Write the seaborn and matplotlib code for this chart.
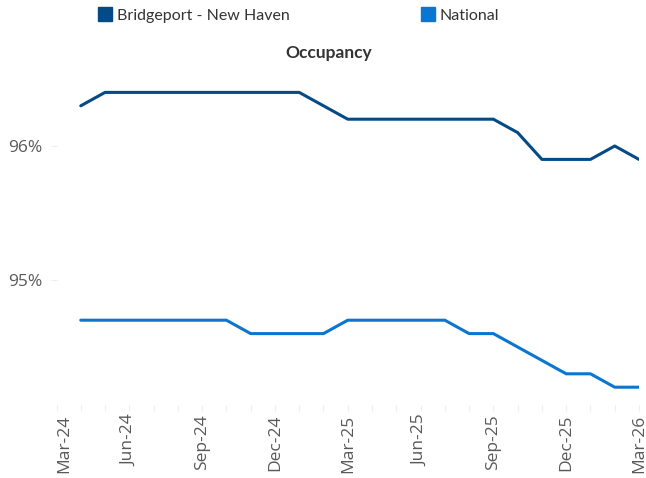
import matplotlib
matplotlib.use("Agg")
import matplotlib.pyplot as plt
import matplotlib.transforms as mtransforms
from matplotlib.patches import Patch
from matplotlib.ticker import FixedLocator, MultipleLocator, FuncFormatter
import seaborn as sns
import pandas as pd

months = ["Apr-24", "May-24", "Jun-24", "Jul-24", "Aug-24", "Sep-24", "Oct-24", "Nov-24",
          "Dec-24", "Jan-25", "Feb-25", "Mar-25", "Apr-25", "May-25", "Jun-25", "Jul-25",
          "Aug-25", "Sep-25", "Oct-25", "Nov-25", "Dec-25", "Jan-26", "Feb-26", "Mar-26"]
bridgeport = [96.3, 96.4, 96.4, 96.4, 96.4, 96.4, 96.4, 96.4, 96.4, 96.4, 96.3, 96.2,
              96.2, 96.2, 96.2, 96.2, 96.2, 96.2, 96.1, 95.9, 95.9, 95.9, 96.0, 95.9]
national = [94.7, 94.7, 94.7, 94.7, 94.7, 94.7, 94.7, 94.6, 94.6, 94.6, 94.6, 94.7,
            94.7, 94.7, 94.7, 94.7, 94.6, 94.6, 94.5, 94.4, 94.3, 94.3, 94.2, 94.2]
tick_labels = ["Mar-24", "Jun-24", "Sep-24", "Dec-24", "Mar-25", "Jun-25", "Sep-25", "Dec-25", "Mar-26"]
series_names = ["Bridgeport - New Haven", "National"]
colors = ["#044A87", "#0A76D0"]

sns.set_theme(style="white")
plt.rcParams["font.family"] = ["Open Sans", "DejaVu Sans"]

idx = list(range(1, len(months) + 1))
df = pd.DataFrame({
    "idx": idx * 2,
    "value": bridgeport + national,
    "series": [series_names[0]] * len(months) + [series_names[1]] * len(months),
})

fig = plt.figure(figsize=(6.46, 4.78), dpi=100)
ax = fig.add_axes([56.5 / 646, 1 - 405 / 478, (639 - 56.5) / 646, (405 - 70) / 478])
sns.lineplot(data=df, x="idx", y="value", hue="series", palette=colors,
             linewidth=2.2, ax=ax, legend=False)

ax.set_xlim(0, 24)
ax.set_ylim(95 - (405 - 280) / 134, 96 + (146 - 70) / 134)
ax.xaxis.set_major_locator(FixedLocator(list(range(0, 25, 3))))
ax.set_xticklabels(tick_labels, rotation=90, fontsize=12.5, color="#595959")
ax.xaxis.set_minor_locator(MultipleLocator(1))
ax.yaxis.set_major_locator(FixedLocator([95, 96]))
ax.yaxis.set_major_formatter(FuncFormatter(lambda v, p: f"{v:.0f}%"))
ax.tick_params(axis="y", labelsize=12.5, labelcolor="#595959", length=4, color="#EEEEEE", width=0.8, pad=6)
ax.tick_params(axis="x", which="both", length=4, color="#EEEEEE", width=0.8, pad=3, bottom=True)
ax.tick_params(axis="y", left=True)
for s in ax.spines.values():
    s.set_visible(False)
ax.set_xlabel("")
ax.set_ylabel("")

# first label sits slightly right of its tick in the reference
first = ax.get_xticklabels()[0]
first.set_transform(first.get_transform() + mtransforms.ScaledTranslation(8 / 100, 0, fig.dpi_scale_trans))

fig.text(329 / 646, 1 - 53 / 478, "Occupancy", ha="center", va="center",
         fontsize=12.5, fontweight="bold", color="#333333", family=["Lato", "DejaVu Sans"])

handles = [Patch(facecolor=c, edgecolor=c) for c in colors]
fig.legend(handles, series_names, loc="center left", bbox_to_anchor=(84 / 646, 1 - 15 / 478),
           ncol=2, frameon=False, handlelength=0.88, handleheight=0.88,
           handletextpad=0.3, columnspacing=8.2, labelcolor="#333333",
           prop={"family": ["Lato", "DejaVu Sans"], "size": 11.5})

fig.savefig("out.png", dpi=100)
